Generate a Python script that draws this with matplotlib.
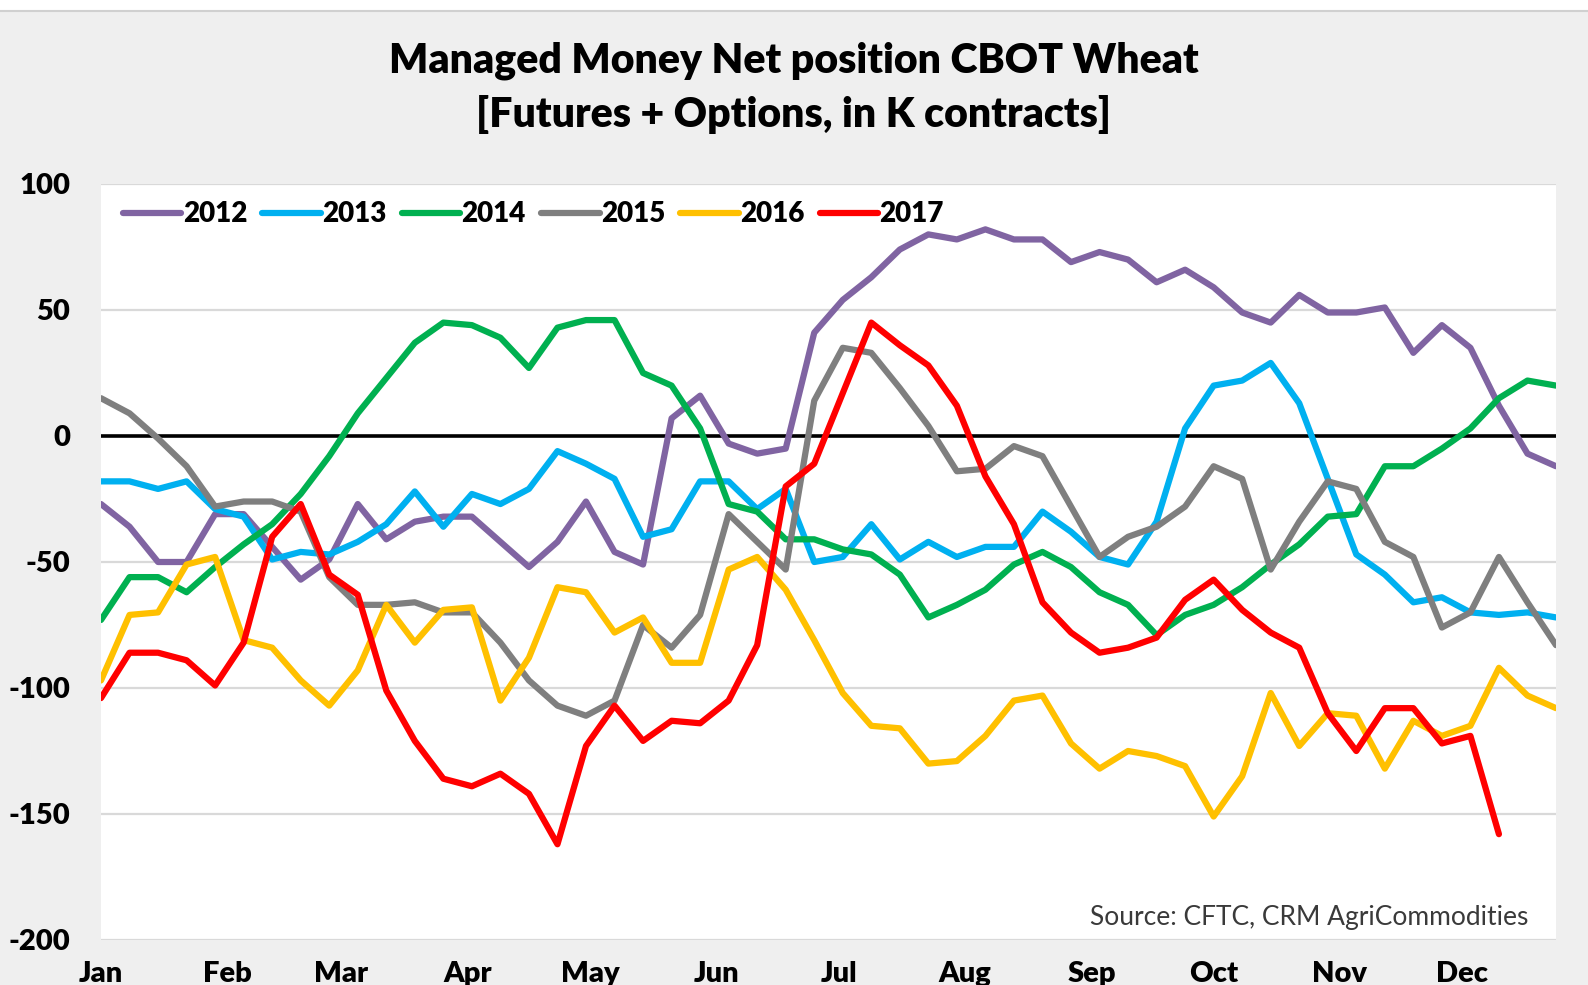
import numpy as np
import matplotlib.pyplot as plt

plt.rcParams["axes.unicode_minus"] = False

# weekly positions, K contracts
years = ["2012", "2013", "2014", "2015", "2016", "2017"]
colors = ["#8064a2", "#00b0f0", "#00b050", "#7f7f7f", "#ffc000", "#ff0000"]

y2012 = [-27, -36, -50, -50, -31, -31, -44, -57, -49, -27,
         -41, -34, -32, -32, -42, -52, -42, -26, -46, -51,
         7, 16, -3, -7, -5, 41, 54, 63, 74, 80,
         78, 82, 78, 78, 69, 73, 70, 61, 66, 59,
         49, 45, 56, 49, 49, 51, 33, 44, 35, 12,
         -7, -12]
y2013 = [-18, -18, -21, -18, -29, -32, -49, -46, -47, -42,
         -35, -22, -36, -23, -27, -21, -6, -11, -17, -40,
         -37, -18, -18, -29, -21, -50, -48, -35, -49, -42,
         -48, -44, -44, -30, -38, -48, -51, -34, 3, 20,
         22, 29, 13, -17, -47, -55, -66, -64, -70, -71,
         -70, -72]
y2014 = [-73, -56, -56, -62, -52, -43, -35, -23, -8, 9,
         23, 37, 45, 44, 39, 27, 43, 46, 46, 25,
         20, 3, -27, -30, -41, -41, -45, -47, -55, -72,
         -67, -61, -51, -46, -52, -62, -67, -79, -71, -67,
         -60, -51, -43, -32, -31, -12, -12, -5, 3, 15,
         22, 20]
y2015 = [15, 9, -1, -12, -28, -26, -26, -30, -56, -67,
         -67, -66, -70, -70, -82, -97, -107, -111, -105, -75,
         -84, -71, -31, -42, -53, 14, 35, 33, 19, 4,
         -14, -13, -4, -8, -28, -48, -40, -36, -28, -12,
         -17, -53, -34, -18, -21, -42, -48, -76, -70, -48,
         -66, -83]
y2016 = [-97, -71, -70, -51, -48, -81, -84, -97, -107, -93,
         -67, -82, -69, -68, -105, -88, -60, -62, -78, -72,
         -90, -90, -53, -48, -61, -81, -102, -115, -116, -130,
         -129, -119, -105, -103, -122, -132, -125, -127, -131, -151,
         -135, -102, -123, -110, -111, -132, -113, -119, -115, -92,
         -103, -108]
y2017 = [-104, -86, -86, -89, -99, -82, -40, -27, -55, -63,
         -101, -121, -136, -139, -134, -142, -162, -123, -107, -121,
         -113, -114, -105, -83, -20, -11, 17, 45, 36, 28,
         12, -16, -35, -66, -78, -86, -84, -80, -65, -57,
         -69, -78, -84, -110, -125, -108, -108, -122, -119, -158]

months = ["Jan", "Feb", "Mar", "Apr", "May", "Jun",
          "Jul", "Aug", "Sep", "Oct", "Nov", "Dec"]
month_start_day = [0, 31, 59, 90, 120, 151, 181, 212, 243, 273, 304, 334]

series = [y2012, y2013, y2014, y2015, y2016, y2017]

fam = ["Lato", "DejaVu Sans"]
bg = "#efefef"

fig = plt.figure(figsize=(15.88, 9.85), dpi=100, facecolor=bg)
ax = fig.add_axes([101 / 1588, 1 - 940 / 985, (1556 - 101) / 1588, (940 - 184) / 985])
ax.set_facecolor("white")

for vals, yr, c in zip(series, years, colors):
    x = np.arange(len(vals))
    ax.plot(x, vals, color=c, lw=4.5, label=yr, solid_capstyle="round",
            solid_joinstyle="round", zorder=3)

ax.axhline(0, color="black", lw=2.6, zorder=2)

ax.set_xlim(0, 51)
ax.set_ylim(-200, 100)
ax.set_yticks(np.arange(-200, 101, 50))
ax.set_xticks(np.array(month_start_day) / 7.0)
ax.set_xticklabels(months)
ax.grid(axis="y", color="#d9d9d9", lw=1.6, zorder=1)
ax.grid(axis="x", visible=False)
for s in ax.spines.values():
    s.set_visible(False)
ax.tick_params(length=0, labelsize=21)
ax.tick_params(axis="y", pad=22)
ax.tick_params(axis="x", pad=15)
for lab in ax.get_xticklabels() + ax.get_yticklabels():
    lab.set_fontfamily(fam)
    lab.set_fontweight("heavy")

leg = ax.legend(loc="upper left", ncol=6, frameon=False, handlelength=2.1,
                handletextpad=0.05, columnspacing=0.55,
                bbox_to_anchor=(-0.002, 1.01),
                prop={"family": fam, "weight": "heavy", "size": 20})

fig.text(0.5, 1 - 61 / 985, "Managed Money Net position CBOT Wheat",
         ha="center", va="center", fontsize=29.5, family=fam, weight="heavy")
fig.text(0.5, 1 - 114 / 985, "[Futures + Options, in K contracts]",
         ha="center", va="center", fontsize=29.5, family=fam, weight="heavy")

ax.text(0.981, 0.013, "Source: CFTC, CRM AgriCommodities", transform=ax.transAxes,
        ha="right", va="bottom", fontsize=19, color="#3a3a3a",
        family=fam, weight="normal")

# thin white strip and line at the very top
fig.patches.append(plt.Rectangle((0, 1 - 10 / 985), 1, 10 / 985, transform=fig.transFigure,
                                 facecolor="white", edgecolor="none"))
fig.lines.append(plt.Line2D([0, 1], [1 - 11 / 985, 1 - 11 / 985], transform=fig.transFigure,
                            color="#d0d0d0", lw=1.5))

fig.savefig("out.png", dpi=100, facecolor=bg)
